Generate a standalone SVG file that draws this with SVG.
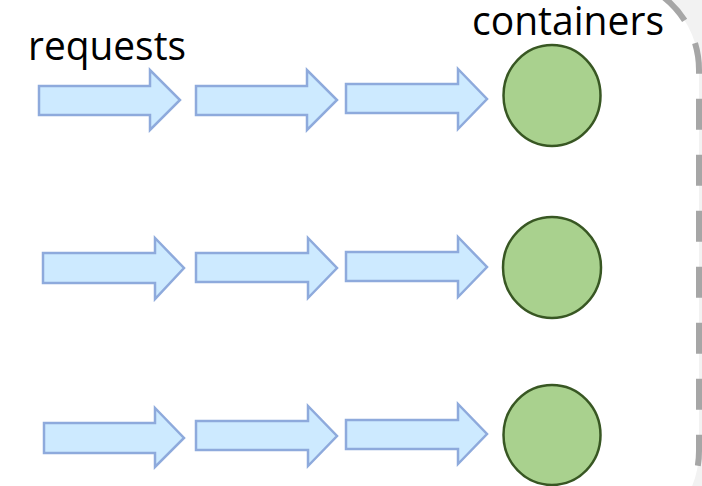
<svg xmlns="http://www.w3.org/2000/svg" width="702" height="486" viewBox="0 0 702 486">
  <defs>
    <style>
      .arrow { fill: #cdeaff; stroke: #8eaadc; stroke-width: 2.5; stroke-linejoin: miter; }
      .container { fill: #a9d18e; stroke: #385723; stroke-width: 2.5; }
      .label { font-family: "Open Sans", "Liberation Sans", sans-serif; font-size: 40px; fill: #000000; }
      .border { fill: none; stroke: #a6a6a6; stroke-width: 6; stroke-dasharray: 31 25; stroke-dashoffset: 50; }
    </style>
  </defs>
  <rect x="0" y="0" width="702" height="486" fill="#f2f2f2"/>
  <g id="boundary">
    <path d="M -20,-22.6 H 606.4 A 92.6 92.6 0 0 1 699,70 V 451 A 92.6 92.6 0 0 1 606.4,543.6 H -20 Z" fill="#ffffff"/>
    <path class="border" d="M 606.4,-22.6 A 92.6 92.6 0 0 1 699,70 V 451 A 92.6 92.6 0 0 1 606.4,543.6"/>
  </g>
  <g id="labels">
    <text id="label-requests" class="label" x="28" y="60" textLength="158" lengthAdjust="spacingAndGlyphs">requests</text>
    <text id="label-containers" class="label" x="472" y="35" textLength="192" lengthAdjust="spacingAndGlyphs">containers</text>
  </g>
  <g id="connectors">
    <polygon class="arrow" points="39,86 150,86 150,70 180,100 150,130 150,115 39,115"/>
    <polygon class="arrow" points="196,86 307,86 307,70 337,100 307,130 307,115 196,115"/>
    <polygon class="arrow" points="346,84 458,84 458,69 487,99 458,129 458,113 346,113"/>
    <polygon class="arrow" points="43,253 155,253 155,238 184,268 155,299 155,283 43,283"/>
    <polygon class="arrow" points="196,253 308,253 308,238 337,268 308,298 308,282 196,282"/>
    <polygon class="arrow" points="346,252 458,252 458,237 487,267 458,297 458,281 346,281"/>
    <polygon class="arrow" points="44,423 155,423 155,408 184,438 155,467 155,453 44,453"/>
    <polygon class="arrow" points="196,421 308,421 308,406 337,436 308,466 308,450 196,450"/>
    <polygon class="arrow" points="346,420 458,420 458,404 487,434 458,464 458,449 346,449"/>
  </g>
  <g id="container-1">
    <ellipse class="container" cx="552" cy="95.5" rx="48.5" ry="50.5"/>
  </g>
  <g id="container-2">
    <ellipse class="container" cx="552" cy="267.5" rx="49" ry="50.5"/>
  </g>
  <g id="container-3">
    <ellipse class="container" cx="552" cy="435" rx="48.5" ry="50"/>
  </g>
</svg>
